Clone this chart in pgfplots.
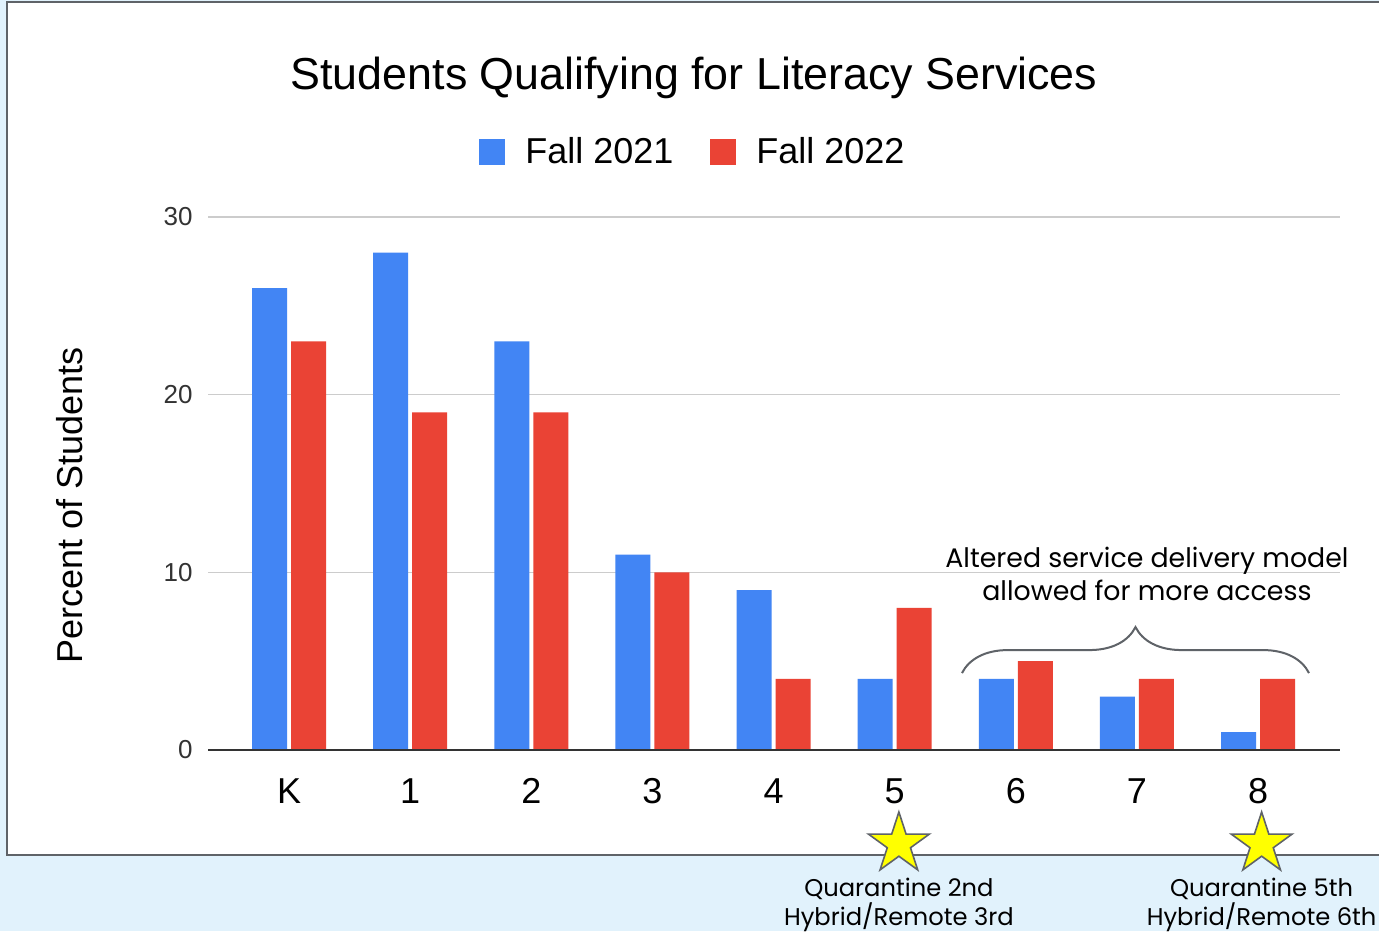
\documentclass[border=0pt]{standalone}
\usepackage{fontspec}
\setmainfont{Liberation Sans}
\newfontfamily\annfont{Poppins}
\usepackage{pgfplots}
\usepackage{pgfplotstable}
\pgfplotsset{compat=1.18}
\usetikzlibrary{shapes.geometric,decorations.pathreplacing}
\definecolor{gblue}{HTML}{4285F4}
\definecolor{gred}{HTML}{EA4335}
\definecolor{bgblue}{HTML}{E1F2FC}
\definecolor{boxgray}{HTML}{5F6368}
\definecolor{gridgray}{HTML}{CCCCCC}
\definecolor{axisdark}{HTML}{333333}
\definecolor{starfill}{HTML}{FFFF00}

\pgfplotstableread{
x a b
0 26 23
1 28 19
2 23 19
3 11 10
4 9 4
5 4 8
6 4 5
7 3 4
8 1 4
}\data

\begin{document}
\begin{tikzpicture}
\useasboundingbox (0,0) rectangle (689.5pt,465.5pt);
\fill[bgblue] (0,0) rectangle (689.5pt,465.5pt);
\filldraw[fill=white, draw=boxgray, line width=1pt] (3.5pt,38pt) rectangle (692pt,464.5pt);
\begin{axis}[
  at={(104pt,90.5pt)}, anchor=south west,
  scale only axis, width=566pt, height=266.5pt,
  xmin=-0.669, xmax=8.677, ymin=0, ymax=30,
  ybar=2pt, bar width=17.5pt,
  axis line style={draw=none},
  major tick length=0pt,
  xtick=data,
  xticklabels={K,1,2,3,4,5,6,7,8},
  ytick={0,10,20,30},
  ymajorgrids,
  grid style={gridgray, line width=0.6pt},
  /pgf/number format/assume math mode=true,
  xticklabel style={font=\fontsize{18}{21}\selectfont, anchor=base, yshift=-26.5pt},
  yticklabel style={font=\fontsize{13}{15}\selectfont, color=axisdark, inner sep=0pt, xshift=-7.5pt},
  ylabel={Percent of Students},
  ylabel style={at={(axis description cs:0,0.458)}, anchor=center, yshift=69pt, font=\fontsize{18}{21}\selectfont},
  clip=false,
  legend columns=2,
  legend style={draw=none, fill=none, at={(0.4293,1)}, anchor=center, yshift=32.5pt,
    font=\fontsize{18}{21}\selectfont,
    /tikz/every even column/.append style={column sep=16.5pt}},
  legend image code/.code={\fill[#1] (0pt,-6.5pt) rectangle (13pt,6.5pt); \path (21pt,0pt);},
]
\addplot[fill=gblue, draw=none] table[x=x, y=a] {\data};
\addplot[fill=gred, draw=none] table[x=x, y=b] {\data};
\legend{Fall 2021, Fall 2022}
\draw[axisdark, line width=0.9pt] (rel axis cs:0,0) -- (rel axis cs:1,0);
\node[anchor=base, font=\fontsize{22.4}{26}\selectfont] at (rel axis cs:0.4293,1) [yshift=63.5pt] {Students Qualifying for Literacy Services};
\draw[boxgray, line width=1pt, decorate, decoration={brace, amplitude=23pt}] (axis cs:5.556,4.33) -- (axis cs:8.421,4.33);
\node[align=center, font=\annfont\fontsize{13.4}{16.5}\selectfont] at (axis cs:7.083,9.93) {Altered service delivery model\\allowed for more access};
\node[star, star points=5, star point ratio=2.618, minimum size=32pt, inner sep=0pt, fill=starfill, draw=boxgray, line width=0.8pt] at (axis cs:5.035,-5.29) {};
\node[star, star points=5, star point ratio=2.618, minimum size=32pt, inner sep=0pt, fill=starfill, draw=boxgray, line width=0.8pt] at (axis cs:8.03,-5.29) {};
\node[align=center, font=\annfont\fontsize{12.1}{14.5}\selectfont] at (axis cs:5.035,-8.7) {Quarantine 2nd\\Hybrid/Remote 3rd};
\node[align=center, font=\annfont\fontsize{12.1}{14.5}\selectfont] at (axis cs:8.03,-8.7) {Quarantine 5th\\Hybrid/Remote 6th};
\end{axis}
\end{tikzpicture}
\end{document}
